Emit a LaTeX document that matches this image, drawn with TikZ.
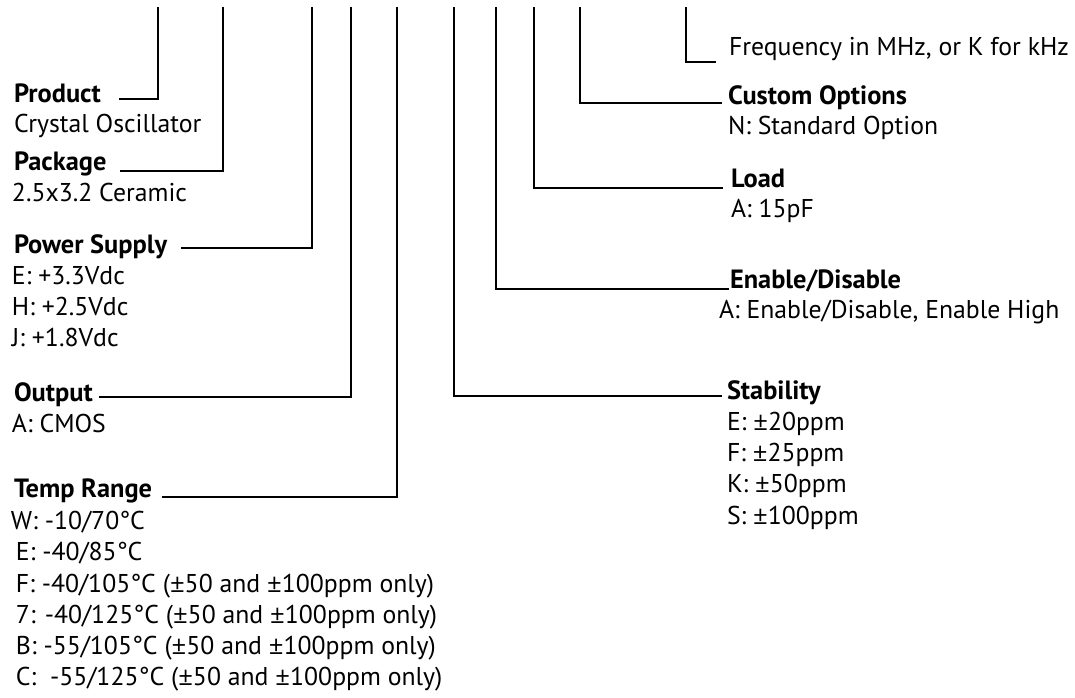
\documentclass[tikz,border=0pt]{standalone}
\usepackage{fontspec}
\setmainfont{PT Sans}
\newfontfamily\pmfont{Open Sans}
\newcommand\pmx{{\pmfont ±}}
\usetikzlibrary{positioning}

\begin{document}
\begin{tikzpicture}[x=0.75pt, y=-0.75pt, line width=1.5pt,
  head/.style={font=\fontsize{19.8}{23}\selectfont\bfseries, inner sep=0pt, anchor=base west},
  item/.style={font=\fontsize{19.3}{23}\selectfont, inner sep=0pt, anchor=base west}]

\useasboundingbox (0,0) rectangle (1075,698);

% === Tops of the code lines ===
\coordinate (t-prod) at (158,7);
\coordinate (t-pkg)  at (223,7);
\coordinate (t-psup) at (312,7);
\coordinate (t-outp) at (351,7);
\coordinate (t-temp) at (397,7);
\coordinate (t-stab) at (454,7);
\coordinate (t-enab) at (496,7);
\coordinate (t-load) at (534,7);
\coordinate (t-cust) at (580,7);
\coordinate (t-freq) at (686,7);

% === Left column ===
\node[head] (prod) at (13,103) {Product};
\node[item] (prod-a) at (13,133) {Crystal Oscillator};

\node[head] (pkg) at (13,171) {Package};
\node[item] (pkg-a) at (11,202) {2.5x3.2 Ceramic};

\node[head] (psup) at (13,254) {Power Supply};
\node[item] (psup-a) at (11,285) {E: +3.3Vdc};
\node[item] (psup-b) at (11,316) {H: +2.5Vdc};
\node[item] (psup-c) at (11,347) {J: +1.8Vdc};

\node[head] (outp) at (13,402) {Output};
\node[item] (outp-a) at (11,433) {A: CMOS};

\node[head] (temp) at (13,498) {Temp Range};
\node[item] (temp-a) at (10,530) {W: -10/70°C};
\node[item] (temp-b) at (15,561) {E: -40/85°C};
\node[item] (temp-c) at (15,592) {F: -40/105°C (\pmx50 and \pmx100ppm only)};
\node[item] (temp-d) at (15,623) {7: -40/125°C (\pmx50 and \pmx100ppm only)};
\node[item] (temp-e) at (15,654) {B: -55/105°C (\pmx50 and \pmx100ppm only)};
\node[item] (temp-f) at (15,685) {C:\ \ -55/125°C (\pmx50 and \pmx100ppm only)};

% === Right column ===
\node[item] (freq) at (728,56) {Frequency in MHz, or K for kHz};

\node[head] (cust) at (727,105) {Custom Options};
\node[item] (cust-a) at (727,135) {N: Standard Option};

\node[head] (load) at (730,188) {Load};
\node[item] (load-a) at (730,218) {A: 15pF};

\node[head] (enab) at (729,289) {Enable/Disable};
\node[item] (enab-a) at (718,319) {A: Enable/Disable, Enable High};

\node[head] (stab) at (726,400) {Stability};
\node[item] (stab-a) at (726,431) {E: \pmx20ppm};
\node[item] (stab-b) at (726,462) {F: \pmx25ppm};
\node[item] (stab-c) at (726,493) {K: \pmx50ppm};
\node[item] (stab-d) at (726,524) {S: \pmx100ppm};

% === Code lines (gap to text, rise above baseline, in px) ===
\foreach \nd/\gap/\up in {prod/17/4, pkg/13/0, psup/13/6, outp/5/5, temp/9/1}
  \draw (t-\nd) |- ([xshift=\gap*0.75pt, yshift=\up*0.75pt]\nd.base east);
\foreach \nd/\gap/\up in {freq/12/-6, cust/5/2, load/7/0, enab/0/0, stab/4/4}
  \draw (t-\nd) |- ([xshift=-\gap*0.75pt, yshift=\up*0.75pt]\nd.base west);

\end{tikzpicture}
\end{document}
